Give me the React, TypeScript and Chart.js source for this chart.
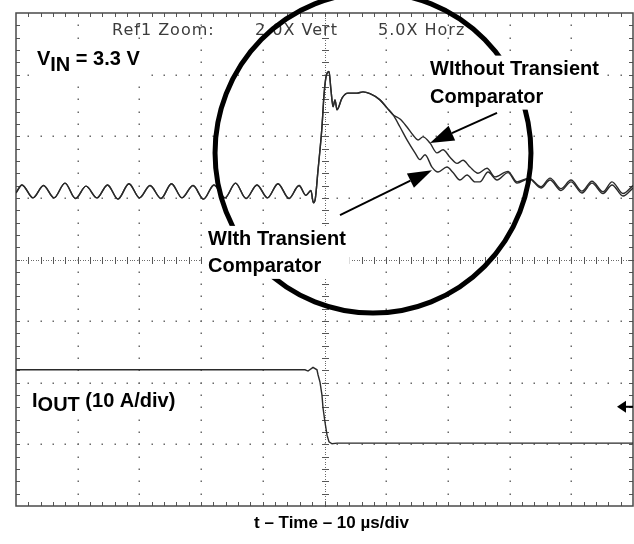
import React, { useEffect, useRef } from 'react';
import { Chart, registerables } from 'chart.js';

Chart.register(...registerables);

// Axis ranges: 10 µs/div horizontally (10 divisions), 8 vertical divisions
const timeMin = -50;
const timeMax = 50;
const levelMin = -4;
const levelMax = 4;

// V_IN ripple before the load step and the step response (both traces identical here), in divisions
const commonTime = [
  -50.0, -49.03, -47.24, -45.54, -43.84, -42.06, -40.36, -38.65, -36.87, -35.17, -33.47, -31.69,
  -29.98, -28.28, -26.5, -24.8, -23.1, -21.31, -19.61, -17.91, -16.13, -14.42, -12.72, -10.94,
  -9.24, -7.54, -5.75, -4.13, -3.0, -2.2, -1.8, -1.5, -1.05, -0.73, -0.41, -0.08, 0.24, 0.73,
  1.05, 1.38, 1.7, 2.03, 2.84, 3.81, 5.27, 6.24, 7.37, 8.99, 10.13, 11.1,
];
const commonLevel = [
  1.08, 1.21, 1.0, 1.2, 1.0, 1.24, 0.99, 1.19, 1.0, 1.21, 0.98, 1.23,
  1.0, 1.2, 0.99, 1.23, 1.0, 1.2, 0.98, 1.21, 1.0, 1.24, 0.99, 1.21,
  1.0, 1.23, 0.99, 1.2, 1.04, 1.12, 0.92, 0.98, 1.45, 1.78, 2.15, 2.67, 2.96, 3.05,
  2.75, 2.48, 2.59, 2.43, 2.62, 2.7, 2.7, 2.72, 2.69, 2.59, 2.46, 2.35,
];

// Recovery without transient comparator
const withoutTime = [
  12.24, 13.37, 14.34, 15.15, 15.96, 17.1, 18.23, 19.21, 20.34, 21.48, 22.45, 23.58, 24.88, 26.34,
  27.63, 29.74, 31.2, 33.15, 35.09, 36.55, 38.33, 39.95, 41.73, 43.35, 45.14, 46.6, 48.38, 50.0,
];
const withoutLevel = [
  2.28, 2.15, 2.02, 1.94, 1.99, 1.89, 1.73, 1.78, 1.66, 1.56, 1.61, 1.5, 1.4, 1.48,
  1.34, 1.43, 1.26, 1.32, 1.18, 1.32, 1.15, 1.29, 1.11, 1.27, 1.1, 1.26, 1.07, 1.2,
];

// Recovery with transient comparator
const withTime = [
  12.24, 13.37, 14.67, 15.48, 16.29, 17.42, 18.4, 19.85, 20.83, 21.96, 23.1, 24.39, 25.2, 26.5,
  27.96, 29.74, 31.2, 33.15, 35.09, 36.55, 38.33, 39.95, 41.73, 43.35, 45.14, 46.6, 48.38, 50.0,
];
const withLevel = [
  2.15, 1.94, 1.73, 1.62, 1.7, 1.5, 1.42, 1.5, 1.41, 1.29, 1.37, 1.26, 1.26, 1.42,
  1.29, 1.41, 1.24, 1.31, 1.16, 1.29, 1.12, 1.26, 1.08, 1.24, 1.07, 1.21, 1.03, 1.16,
];

// Output current step (10 A/div)
const ioutTime = [
  -50.0, -3.16, -2.67, -1.86, -1.22, -1.05, -0.73, -0.41, -0.24, 0.08, 0.41, 0.73, 1.22, 2.03, 3.0, 50.0,
];
const ioutLevel = [
  -1.79, -1.79, -1.81, -1.75, -1.79, -1.87, -1.99, -2.2, -2.41, -2.64, -2.85, -2.96, -2.99, -2.98, -2.98, -2.98,
];

const toPoints = (t: number[], v: number[]) => t.map((x, i) => ({ x, y: v[i] }));

const BOLD = (s: number) => `bold ${s}px "Liberation Sans", Arial, sans-serif`;

const scopePlugin = {
  id: 'scope',
  beforeDatasetsDraw(chart: any) {
    const { ctx, chartArea: a, scales } = chart;
    const X = (v: number) => scales.x.getPixelForValue(v);
    const Y = (v: number) => scales.y.getPixelForValue(v);
    ctx.save();
    ctx.fillStyle = '#fff';
    ctx.fillRect(0, 0, chart.width, chart.height);
    // major dotted lines
    ctx.fillStyle = '#6a6a6a';
    for (let i = 1; i < 10; i++) {
      if (i === 5) continue;
      const px = Math.round(X(timeMin + i * 10));
      for (let j = 1; j < 40; j++) {
        const py = Math.round(Y(levelMin + j * 0.2));
        ctx.fillRect(px - 0.5, py - 0.5, 1.5, 1.5);
      }
    }
    for (let i = 1; i < 8; i++) {
      if (i === 4) continue;
      const py = Math.round(Y(levelMin + i));
      for (let j = 1; j < 50; j++) {
        const px = Math.round(X(timeMin + j * 2));
        ctx.fillRect(px - 0.5, py - 0.5, 1.5, 1.5);
      }
    }
    // center cross with fine dots and ticks
    const cx = Math.round(X(0));
    const cy = Math.round(Y(0));
    for (let j = 0; j <= 250; j++) {
      const px = X(timeMin + j * 0.4);
      ctx.fillRect(Math.round(px), cy, 1, 1);
    }
    for (let j = 0; j <= 200; j++) {
      const py = Y(levelMin + j * 0.04);
      ctx.fillRect(cx, Math.round(py), 1, 1);
    }
    ctx.fillStyle = '#555';
    for (let j = 1; j < 50; j++) {
      const px = Math.round(X(timeMin + j * 2));
      ctx.fillRect(px, cy - 3, 1, 7);
    }
    for (let j = 1; j < 40; j++) {
      const py = Math.round(Y(levelMin + j * 0.2));
      ctx.fillRect(cx - 3, py, 7, 1);
    }
    // border ticks
    for (let j = 1; j < 50; j++) {
      const px = Math.round(X(timeMin + j * 2));
      ctx.fillRect(px, a.top, 1, 4);
      ctx.fillRect(px, a.bottom - 4, 1, 4);
    }
    for (let j = 1; j < 40; j++) {
      const py = Math.round(Y(levelMin + j * 0.2));
      ctx.fillRect(a.left, py, 4, 1);
      ctx.fillRect(a.right - 4, py, 4, 1);
    }
    ctx.strokeStyle = '#4a4a4a';
    ctx.lineWidth = 1.5;
    ctx.strokeRect(a.left, a.top, a.right - a.left, a.bottom - a.top);
    ctx.restore();
  },
  afterDatasetsDraw(chart: any) {
    const { ctx, chartArea: a, scales } = chart;
    const X = (v: number) => scales.x.getPixelForValue(v);
    const Y = (v: number) => scales.y.getPixelForValue(v);
    ctx.save();
    // scope readout text
    ctx.font = '16px "DejaVu Sans", sans-serif';
    (ctx as any).letterSpacing = '1px';
    ctx.fillStyle = '#3c3c3c';
    ctx.textBaseline = 'alphabetic';
    ctx.fillText('Ref1 Zoom:', X(-34.44), Y(3.65));
    ctx.fillText('2.0X Vert', X(-11.26), Y(3.65));
    ctx.fillText('5.0X Horz', X(8.67), Y(3.65));
    (ctx as any).letterSpacing = '0px';

    // zoom circle
    const ccx = X(7.86);
    const ccy = Y(1.73);
    const rx = X(7.86 + 25.6) - ccx;
    const ry = ccy - Y(1.73 + 2.6);
    ctx.beginPath();
    ctx.ellipse(ccx, ccy, rx, ry, 0, 0, Math.PI * 2);
    ctx.lineWidth = 5;
    ctx.strokeStyle = '#000';
    ctx.stroke();

    // annotation blocks with white backgrounds
    const block = (lines: string[], x0: number, y0: number, gap: number) => {
      ctx.font = BOLD(20);
      const w = Math.max(...lines.map((l) => ctx.measureText(l).width));
      ctx.fillStyle = '#fff';
      ctx.fillRect(x0 - 4, y0 - 19, w + 8, 19 + gap * (lines.length - 1) + 7);
      ctx.fillStyle = '#000';
      lines.forEach((l, i) => ctx.fillText(l, x0, y0 + i * gap));
    };
    block(['WIthout Transient', 'Comparator'], X(17.1), Y(3.0), 28);
    block(['WIth Transient', 'Comparator'], X(-18.88), Y(0.237), 27);

    const subLabel = (main: string, sub: string, rest: string, x0: number, y0: number, drop: number) => {
      ctx.font = BOLD(20);
      const w1 = ctx.measureText(main).width;
      const w2 = ctx.measureText(sub).width;
      const w3 = ctx.measureText(rest).width;
      ctx.fillStyle = '#fff';
      ctx.fillRect(x0 - 3, y0 - 18, w1 + w2 + w3 + 6, 18 + drop + 6);
      ctx.fillStyle = '#000';
      ctx.fillText(main, x0, y0);
      ctx.fillText(sub, x0 + w1, y0 + drop);
      ctx.fillText(rest, x0 + w1 + w2, y0);
    };
    subLabel('V', 'IN', ' = 3.3 V', X(-46.6), Y(3.16), 6);
    subLabel('I', 'OUT', ' (10 A/div)', X(-47.4), Y(-2.39), 4);

    // arrows
    const arrow = (t0: number, v0: number, t1: number, v1: number) => {
      const x0 = X(t0), y0 = Y(v0), x1 = X(t1), y1 = Y(v1);
      const ang = Math.atan2(y1 - y0, x1 - x0);
      const L = 24, H = 8;
      const bx = x1 - L * Math.cos(ang), by = y1 - L * Math.sin(ang);
      ctx.beginPath();
      ctx.moveTo(x0, y0);
      ctx.lineTo(bx, by);
      ctx.lineWidth = 2;
      ctx.strokeStyle = '#000';
      ctx.stroke();
      ctx.beginPath();
      ctx.moveTo(x1, y1);
      ctx.lineTo(bx + H * Math.sin(ang), by - H * Math.cos(ang));
      ctx.lineTo(bx - H * Math.sin(ang), by + H * Math.cos(ang));
      ctx.closePath();
      ctx.fillStyle = '#000';
      ctx.fill();
    };
    arrow(27.96, 2.38, 17.1, 1.89);
    arrow(2.51, 0.72, 17.42, 1.45);

    // ground reference marker on right edge
    const gy = Y(-2.39);
    ctx.beginPath();
    ctx.moveTo(a.right - 16, gy);
    ctx.lineTo(a.right - 7, gy - 6);
    ctx.lineTo(a.right - 7, gy + 6);
    ctx.closePath();
    ctx.fill();
    ctx.fillRect(a.right - 8, gy - 1, 8, 2);

    // x caption
    ctx.font = BOLD(17);
    ctx.textAlign = 'center';
    ctx.fillText('t – Time – 10 µs/div', (a.left + a.right) / 2 + 7, a.bottom + 22);
    ctx.restore();
  },
};

export default function App() {
  const ref = useRef<HTMLCanvasElement>(null);
  useEffect(() => {
    const traceStyle = {
      showLine: true,
      pointRadius: 0,
      borderColor: '#2a2a2a',
      borderWidth: 1.4,
      fill: false,
    };
    const chart = new Chart(ref.current as HTMLCanvasElement, {
      type: 'scatter',
      data: {
        datasets: [
          {
            label: 'Without Transient Comparator',
            data: toPoints([...commonTime, ...withoutTime], [...commonLevel, ...withoutLevel]),
            cubicInterpolationMode: 'monotone',
            ...traceStyle,
          },
          {
            label: 'With Transient Comparator',
            data: toPoints([...commonTime, ...withTime], [...commonLevel, ...withLevel]),
            cubicInterpolationMode: 'monotone',
            ...traceStyle,
          },
          {
            label: 'IOUT',
            data: toPoints(ioutTime, ioutLevel),
            tension: 0,
            ...traceStyle,
          },
        ],
      },
      options: {
        animation: false,
        responsive: false,
        devicePixelRatio: 1,
        layout: { padding: { left: 16, top: 13, right: 1, bottom: 38 } },
        scales: {
          x: { type: 'linear', min: timeMin, max: timeMax, display: false },
          y: { type: 'linear', min: levelMin, max: levelMax, display: false },
        },
        plugins: { legend: { display: false }, tooltip: { enabled: false } },
      } as any,
      plugins: [scopePlugin],
    });
    return () => chart.destroy();
  }, []);
  return (
    <div style={{ position: 'absolute', left: 0, top: 0, width: 634, height: 544, background: '#fff' }}>
      <canvas ref={ref} width={634} height={544} style={{ display: 'block' }} />
    </div>
  );
}
